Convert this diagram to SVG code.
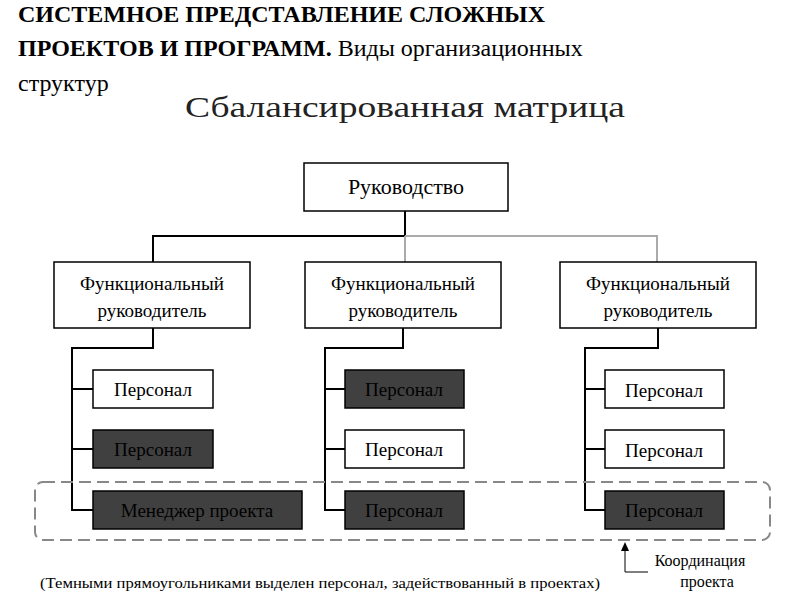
<svg xmlns="http://www.w3.org/2000/svg" width="800" height="600" viewBox="0 0 800 600">
<style>
text{font-family:"Liberation Serif","DejaVu Serif",serif;fill:#000}
.b{fill:#fff;stroke:#000;stroke-width:1.5}
.d{fill:#404040;stroke:#000;stroke-width:1.5}
.c{fill:none;stroke:#000;stroke-width:2}
.g{fill:none;stroke:#aaa;stroke-width:2}
.n{font-size:19px;text-anchor:middle}
</style>
<rect width="800" height="600" fill="#fff"/>
<text x="18" y="22" font-size="24" font-weight="bold">СИСТЕМНОЕ ПРЕДСТАВЛЕНИЕ СЛОЖНЫХ</text>
<text x="18" y="56" font-size="24"><tspan font-weight="bold">ПРОЕКТОВ И ПРОГРАММ.</tspan> Виды организационных</text>
<text x="18" y="91" font-size="24">структур</text>
<text x="405" y="117" font-size="30" text-anchor="middle" textLength="440" lengthAdjust="spacingAndGlyphs" style="fill:#222">Сбалансированная матрица</text>
<g id="connectors">
<path class="c" d="M405,211 V236 H153 V262"/>
<path class="g" d="M405,236 H657 V262 M405,236 V262"/>
<path class="c" d="M153,328 V348 H72 V510 H93 M72,389 H93 M72,449 H93"/>
<path class="c" d="M403,328 V348 H325 V510 H345 M325,389 H345 M325,449 H345"/>
<path class="c" d="M658,328 V348 H585 V510 H605 M585,389 H605 M585,449 H605"/>
<rect x="35" y="482" width="735" height="58" rx="8" fill="none" stroke="#888" stroke-width="2" stroke-dasharray="12,6"/>
<path d="M625,550 V572 H648" fill="none" stroke="#000" stroke-width="1"/>
<polygon points="625,542 621,551 629,551" fill="#000"/>
</g>
<g id="root"><rect class="b" x="304" y="163" width="204" height="48"/><text class="n" x="406" y="194" style="font-size:22px">Руководство</text></g>
<g id="f1"><rect class="b" x="54" y="262" width="196" height="66"/><text class="n" x="152" y="290">Функциональный</text><text class="n" x="152" y="317">руководитель</text></g>
<g id="f2"><rect class="b" x="305" y="262" width="196" height="66"/><text class="n" x="403" y="290">Функциональный</text><text class="n" x="403" y="317">руководитель</text></g>
<g id="f3"><rect class="b" x="560" y="262" width="196" height="66"/><text class="n" x="658" y="290">Функциональный</text><text class="n" x="658" y="317">руководитель</text></g>
<g id="p11"><rect class="b" x="93" y="370" width="120" height="38"/><text class="n" x="153" y="396">Персонал</text></g>
<g id="p12"><rect class="d" x="93" y="430" width="120" height="38"/><text class="n" x="153" y="456">Персонал</text></g>
<g id="p13"><rect class="d" x="93" y="491" width="209" height="38"/><text class="n" x="197" y="517">Менеджер проекта</text></g>
<g id="p21"><rect class="d" x="345" y="370" width="119" height="38"/><text class="n" x="404" y="396">Персонал</text></g>
<g id="p22"><rect class="b" x="345" y="430" width="119" height="38"/><text class="n" x="404" y="456">Персонал</text></g>
<g id="p23"><rect class="d" x="345" y="491" width="119" height="38"/><text class="n" x="404" y="517">Персонал</text></g>
<g id="p31"><rect class="b" x="605" y="370" width="119" height="38"/><text class="n" x="664" y="397">Персонал</text></g>
<g id="p32"><rect class="b" x="605" y="430" width="119" height="38"/><text class="n" x="664" y="457">Персонал</text></g>
<g id="p33"><rect class="d" x="605" y="491" width="119" height="38"/><text class="n" x="664" y="517">Персонал</text></g>
<text class="n" x="700" y="566" style="font-size:16px">Координация</text>
<text class="n" x="707" y="587" style="font-size:16px">проекта</text>
<text x="40" y="588" style="font-size:14px" textLength="560" lengthAdjust="spacingAndGlyphs">(Темными прямоугольниками выделен  персонал, задействованный в проектах)</text>
</svg>
